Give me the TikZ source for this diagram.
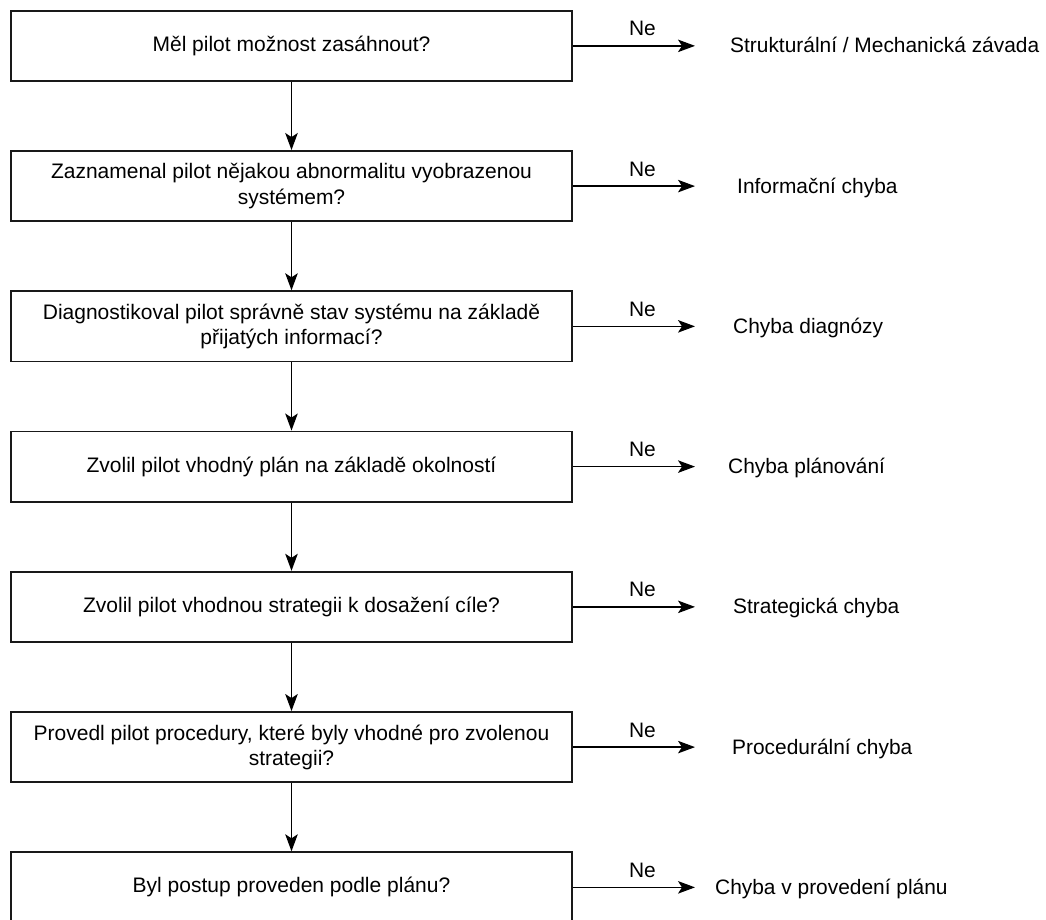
\documentclass[tikz,border=0pt]{standalone}
\usepackage{fontspec}
\setmainfont{Liberation Sans}
\usetikzlibrary{arrows.meta}
\begin{document}
\begin{tikzpicture}[x=1pt,y=-1pt,
  qbox/.style={draw=black!90, line width=1.8pt, minimum width=561pt, minimum height=70.3pt, inner sep=0pt, align=center, font=\fontsize{21}{25.2}\selectfont},
  res/.style={anchor=base west, inner sep=0pt, font=\fontsize{20.9}{25}\selectfont},
  lbl/.style={anchor=base, inner sep=0pt, font=\fontsize{20.9}{25}\selectfont, yshift=10pt},
  arr/.style={line width=1.4pt, -{Stealth[length=17pt,width=12.5pt,inset=4pt]}}]
\path[use as bounding box] (0,0) rectangle (1046,919);
% question boxes
\node[qbox] (q1) at (291.5,45.85) {Měl pilot možnost zasáhnout?};
\node[qbox] (q2) at (291.5,186.1) {Zaznamenal pilot nějakou abnormalitu vyobrazenou\\systémem?};
\node[qbox] (q3) at (291.5,326.35) {Diagnostikoval pilot správně stav systému na základě\\přijatých informací?};
\node[qbox] (q4) at (291.5,466.6) {Zvolil pilot vhodný plán na základě okolností};
\node[qbox] (q5) at (291.5,606.85) {Zvolil pilot vhodnou strategii k dosažení cíle?};
\node[qbox] (q6) at (291.5,747.1) {Provedl pilot procedury, které byly vhodné pro zvolenou\\strategii?};
\node[qbox] (q7) at (291.5,887.35) {Byl postup proveden podle plánu?};
% results
\node[res] (r1) at (730,52.85) {Strukturální / Mechanická závada};
\node[res] (r2) at (737,193.1) {Informační chyba};
\node[res] (r3) at (733,333.35) {Chyba diagnózy};
\node[res] (r4) at (728,473.6) {Chyba plánování};
\node[res] (r5) at (733,613.85) {Strategická chyba};
\node[res] (r6) at (732,754.1) {Procedurální chyba};
\node[res] (r7) at (715,894.35) {Chyba v provedení plánu};
% arrow ends
\coordinate (e1) at (695,45.85);
\coordinate (e2) at (695,186.1);
\coordinate (e3) at (695,326.35);
\coordinate (e4) at (695,466.6);
\coordinate (e5) at (695,606.85);
\coordinate (e6) at (695,747.1);
\coordinate (e7) at (695,887.35);
% Ne arrows
\foreach \i in {1,...,7}{
  \draw[arr] (q\i.east) -- node[lbl, pos=0.57] {Ne} (e\i);
}
% vertical arrows
\draw[arr] (q1.south) -- (q2.north);
\draw[arr] (q2.south) -- (q3.north);
\draw[arr] (q3.south) -- (q4.north);
\draw[arr] (q4.south) -- (q5.north);
\draw[arr] (q5.south) -- (q6.north);
\draw[arr] (q6.south) -- (q7.north);
\end{tikzpicture}
\end{document}
